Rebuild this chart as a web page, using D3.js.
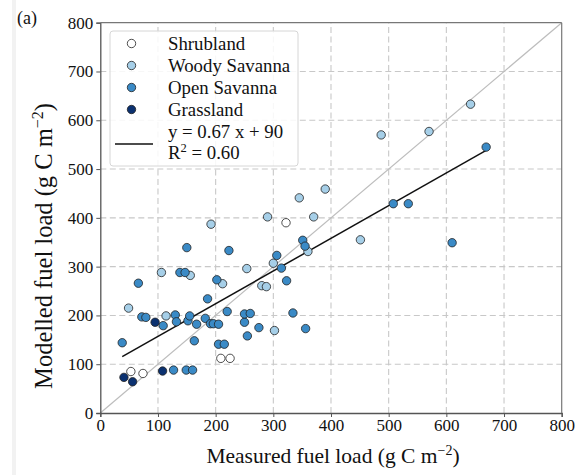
<!DOCTYPE html>
<html>
<head>
<meta charset="utf-8">
<script src="https://cdn.jsdelivr.net/npm/d3@7"></script>
<style>
  body { margin: 0; background: #fff; }
  svg { display: block; font-family: "Liberation Serif", "Times New Roman", serif; }
</style>
</head>
<body>
<script>
// measured vs modelled fuel load
var shrubland = [[53, 85], [74, 81], [209, 112], [225, 112], [322, 390]];
var woodySavanna = [[49, 215], [106, 288], [114, 199], [156, 282], [192, 387], [212, 265],
    [254, 296], [280, 261], [288, 259], [300, 307], [302, 169], [290, 402], [345, 441],
    [370, 402], [390, 459], [360, 331], [451, 355], [487, 570], [570, 577], [642, 633]];
var openSavanna = [[38, 144], [66, 266], [72, 197], [79, 196], [109, 179], [130, 201],
    [132, 187], [138, 288], [147, 288], [150, 339], [152, 189], [155, 199], [163, 148],
    [167, 182], [182, 194], [186, 234], [191, 183], [196, 183], [202, 273], [205, 182],
    [205, 141], [215, 141], [220, 208], [223, 333], [250, 186], [250, 203], [260, 204],
    [255, 158], [275, 175], [306, 323], [314, 297], [323, 271], [334, 205], [351, 354],
    [355, 342], [356, 173], [127, 88], [149, 88], [160, 88], [508, 429], [534, 429],
    [610, 349], [669, 545]];
var grassland = [[41, 73], [56, 64], [95, 186], [108, 86]];

var classNames = ["Shrubland", "Woody Savanna", "Open Savanna", "Grassland"];
var classColors = ["#ffffff", "#a6cfe8", "#3a8ac6", "#0b3170"];
var ticks = [0, 100, 200, 300, 400, 500, 600, 700, 800];
var slope = 0.67, intercept = 90, r2 = "0.60";

var width = 577, height = 475;
var margin = {left: 100.3, right: 15.3, top: 22.7, bottom: 62};
var serif = "Liberation Serif";

var svg = d3.select("body").append("svg")
    .attr("width", width)
    .attr("height", height);

// faint strip on the left edge of the page
svg.append("rect").attr("x", 12).attr("y", 0).attr("width", 4).attr("height", height).attr("fill", "#f2f2f2");

var x = d3.scaleLinear().domain([0, 800]).range([margin.left, width - margin.right]);
var y = d3.scaleLinear().domain([0, 800]).range([height - margin.bottom, margin.top]);

// grid
var grid = svg.append("g")
    .attr("stroke", "#c8c8c8")
    .attr("stroke-width", 1.1)
    .attr("stroke-dasharray", "6,3.5");
grid.selectAll("line.v").data(ticks.slice(1, -1)).join("line")
    .attr("x1", d => x(d)).attr("x2", d => x(d))
    .attr("y1", y(0)).attr("y2", y(800));
grid.selectAll("line.h").data(ticks.slice(1, -1)).join("line")
    .attr("y1", d => y(d)).attr("y2", d => y(d))
    .attr("x1", x(0)).attr("x2", x(800));

// 1:1 line
svg.append("line")
    .attr("x1", x(0)).attr("y1", y(0))
    .attr("x2", x(800)).attr("y2", y(800))
    .attr("stroke", "#bdbdbd").attr("stroke-width", 1.2);

// regression line over the measured range
var all = shrubland.concat(woodySavanna, openSavanna, grassland);
var xr = d3.extent(all, d => d[0]);
svg.append("line")
    .attr("x1", x(xr[0])).attr("y1", y(slope * xr[0] + intercept))
    .attr("x2", x(xr[1])).attr("y2", y(slope * xr[1] + intercept))
    .attr("stroke", "#111").attr("stroke-width", 1.5);

// points
var groups = [shrubland, woodySavanna, openSavanna, grassland];
groups.forEach(function (g, i) {
    svg.append("g").selectAll("circle").data(g).join("circle")
        .attr("cx", d => x(d[0]))
        .attr("cy", d => y(d[1]))
        .attr("r", 4.2)
        .attr("fill", classColors[i])
        .attr("stroke", "#222")
        .attr("stroke-width", 0.8);
});

// axes
var xAxis = svg.append("g")
    .attr("transform", `translate(0,${y(0)})`)
    .call(d3.axisBottom(x).tickValues(ticks).tickSize(4).tickPadding(2));
var yAxis = svg.append("g")
    .attr("transform", `translate(${x(0)},0)`)
    .call(d3.axisLeft(y).tickValues(ticks).tickSize(4).tickPadding(3));
[xAxis, yAxis].forEach(function (a) {
    a.attr("font-family", serif).attr("font-size", 17);
    a.select(".domain").attr("stroke", "#555").attr("stroke-width", 1.3);
    a.selectAll(".tick line").attr("stroke", "#555").attr("stroke-width", 1);
    a.selectAll(".tick text").attr("fill", "#111").style("font-family", serif).style("font-size", "17px");
});
// top and right spines
svg.append("line").attr("x1", x(0)).attr("x2", x(800)).attr("y1", y(800)).attr("y2", y(800))
    .attr("stroke", "#777").attr("stroke-width", 1.2);
svg.append("line").attr("x1", x(800)).attr("x2", x(800)).attr("y1", y(0)).attr("y2", y(800))
    .attr("stroke", "#777").attr("stroke-width", 1.2);

// axis titles
var xt = svg.append("text")
    .attr("x", 333)
    .attr("y", 463)
    .attr("text-anchor", "middle")
    .attr("font-size", 21.5)
    .attr("fill", "#111");
xt.append("tspan").text("Measured fuel load (g C m");
xt.append("tspan").attr("font-size", 14).attr("dy", -8).text("\u22122");
xt.append("tspan").attr("dy", 8).text(")");

var yt = svg.append("text")
    .attr("transform", "translate(52,246) rotate(-90)")
    .attr("text-anchor", "middle")
    .attr("font-size", 24.5)
    .attr("fill", "#111");
yt.append("tspan").text("Modelled fuel load (g C m");
yt.append("tspan").attr("font-size", 16).attr("dy", -9).text("\u22122");
yt.append("tspan").attr("dy", 9).text(")");

svg.append("text").attr("x", 17).attr("y", 24)
    .attr("font-size", 18).attr("fill", "#111").text("(a)");

// legend
var lg = svg.append("g").attr("transform", "translate(110,31)");
lg.append("rect")
    .attr("width", 188).attr("height", 135).attr("rx", 3)
    .attr("fill", "#fff").attr("fill-opacity", 0.85)
    .attr("stroke", "#d6d6d6").attr("stroke-width", 1);
classNames.forEach(function (name, i) {
    var row = lg.append("g").attr("transform", `translate(0,${12.5 + i * 22})`);
    row.append("circle").attr("cx", 21.5).attr("cy", 0).attr("r", 4.2)
        .attr("fill", classColors[i]).attr("stroke", "#222").attr("stroke-width", 0.8);
    row.append("text").attr("x", 58).attr("y", 0).attr("dy", "0.35em")
        .attr("font-size", 18.8).attr("fill", "#111").text(name);
});
lg.append("line").attr("x1", 5).attr("x2", 43).attr("y1", 113).attr("y2", 113)
    .attr("stroke", "#111").attr("stroke-width", 1.5);
lg.append("text").attr("x", 58).attr("y", 100).attr("dy", "0.35em")
    .attr("font-size", 18.8).attr("fill", "#111")
    .text(`y = ${slope} x + ${intercept}`);
var rt = lg.append("text").attr("x", 58).attr("y", 121).attr("dy", "0.35em")
    .attr("font-size", 18.8).attr("fill", "#111");
rt.append("tspan").text("R");
rt.append("tspan").attr("font-size", 12.5).attr("dy", -7).text("2");
rt.append("tspan").attr("dy", 7).text(` = ${r2}`);
</script>
</body>
</html>
